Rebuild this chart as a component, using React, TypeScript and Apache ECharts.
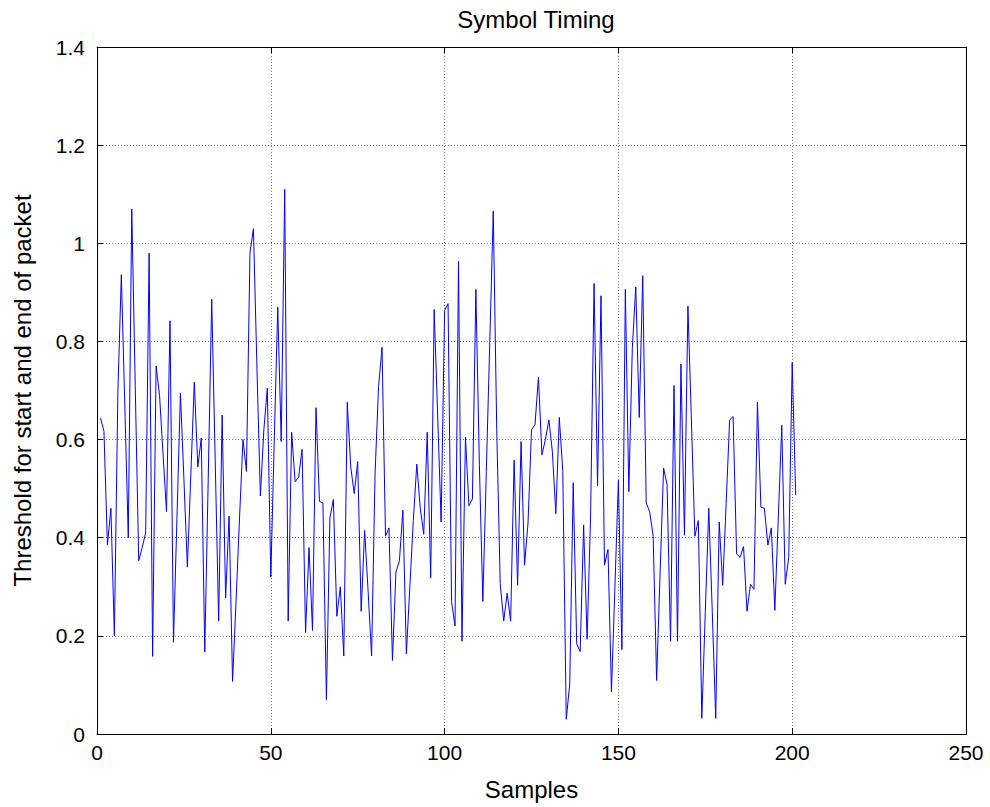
import React, { useEffect, useRef } from "react";
import * as echarts from "echarts";

// Symbol timing threshold values, sample index 1..201
const thresholdValues: number[] = [
  0.644, 0.617, 0.385, 0.46, 0.2, 0.695, 0.936, 0.67, 0.4, 1.07,
  0.71, 0.353, 0.38, 0.41, 0.98, 0.158, 0.75, 0.69, 0.57, 0.453,
  0.842, 0.187, 0.44, 0.695, 0.52, 0.34, 0.53, 0.717, 0.544, 0.603,
  0.167, 0.52, 0.886, 0.56, 0.23, 0.65, 0.277, 0.444, 0.107, 0.27,
  0.44, 0.6, 0.535, 0.98, 1.03, 0.75, 0.485, 0.62, 0.705, 0.32,
  0.6, 0.87, 0.596, 1.11, 0.23, 0.615, 0.514, 0.523, 0.58, 0.207,
  0.38, 0.211, 0.665, 0.474, 0.471, 0.07, 0.44, 0.478, 0.24, 0.3,
  0.159, 0.676, 0.544, 0.49, 0.555, 0.25, 0.415, 0.29, 0.159, 0.532,
  0.708, 0.788, 0.403, 0.42, 0.15, 0.33, 0.353, 0.456, 0.163, 0.3,
  0.435, 0.55, 0.46, 0.407, 0.615, 0.318, 0.865, 0.65, 0.432, 0.863,
  0.877, 0.27, 0.22, 0.963, 0.189, 0.605, 0.465, 0.479, 0.906, 0.55,
  0.27, 0.535, 0.8, 1.066, 0.62, 0.307, 0.23, 0.287, 0.23, 0.558,
  0.303, 0.596, 0.344, 0.43, 0.62, 0.63, 0.727, 0.569, 0.6, 0.64,
  0.576, 0.449, 0.645, 0.535, 0.03, 0.102, 0.512, 0.184, 0.168, 0.426,
  0.193, 0.444, 0.918, 0.506, 0.893, 0.344, 0.376, 0.086, 0.3, 0.517,
  0.172, 0.906, 0.494, 0.786, 0.911, 0.645, 0.934, 0.471, 0.453, 0.403,
  0.109, 0.33, 0.542, 0.508, 0.189, 0.71, 0.189, 0.754, 0.405, 0.872,
  0.64, 0.403, 0.435, 0.032, 0.25, 0.46, 0.25, 0.032, 0.432, 0.303,
  0.47, 0.64, 0.647, 0.367, 0.36, 0.382, 0.25, 0.305, 0.295, 0.676,
  0.462, 0.46, 0.385, 0.42, 0.252, 0.44, 0.629, 0.305, 0.36, 0.757,
  0.487,
];

const titleText = "Symbol Timing";
const xAxisName = "Samples";
const yAxisName = "Threshold for start and end of packet";
const xTicks = { min: 0, max: 250, interval: 50 };
const yTicks = { min: 0, max: 1.4, interval: 0.2 };

const FONT = "'Liberation Sans', Arial, Helvetica, sans-serif";

export default function App() {
  const ref = useRef<HTMLDivElement>(null);

  useEffect(() => {
    if (!ref.current) return;
    const chart = echarts.init(ref.current, undefined, { renderer: "svg" });
    // MATLAB-style 1-based sample index
    const data = thresholdValues.map((v, i) => [i + 1, v]);

    const axisLine = { show: true, onZero: false, lineStyle: { color: "#000", width: 1 } };
    const tick = { show: true, inside: true, length: 6, lineStyle: { color: "#000", width: 1 } };
    const split = { show: true, lineStyle: { color: "#7a7a7a", type: [1, 2] as any, width: 1 } };

    chart.setOption({
      animation: false,
      backgroundColor: "#fff",
      textStyle: { fontFamily: FONT },
      title: {
        text: titleText,
        left: 531,
        textAlign: "center",
        top: 2,
        textStyle: { fontFamily: FONT, fontWeight: "normal", fontSize: 24, color: "#000" },
      },
      grid: { left: 97, right: 24, top: 47, bottom: 73, containLabel: false },
      xAxis: [
        {
          type: "value",
          position: "bottom",
          min: xTicks.min,
          max: xTicks.max,
          interval: xTicks.interval,
          axisLine,
          axisTick: tick,
          axisLabel: { fontSize: 21, color: "#000", fontFamily: FONT, margin: 8 },
          splitLine: split,
          name: xAxisName,
          nameLocation: "middle",
          nameGap: 43,
          nameTextStyle: { fontSize: 24, color: "#000", fontFamily: FONT },
        },
        {
          type: "value",
          position: "top",
          min: xTicks.min,
          max: xTicks.max,
          interval: xTicks.interval,
          axisLine,
          axisTick: tick,
          axisLabel: { show: false },
          splitLine: { show: false },
        },
      ],
      yAxis: [
        {
          type: "value",
          position: "left",
          min: yTicks.min,
          max: yTicks.max,
          interval: yTicks.interval,
          axisLine,
          axisTick: tick,
          axisLabel: {
            fontSize: 21,
            color: "#000",
            fontFamily: FONT,
            margin: 12,
            formatter: (v: number) => String(Math.round(v * 10) / 10),
          },
          splitLine: split,
          name: yAxisName,
          nameLocation: "middle",
          nameGap: 63,
          nameRotate: 90,
          nameTextStyle: { fontSize: 24, color: "#000", fontFamily: FONT },
        },
        {
          type: "value",
          position: "right",
          min: yTicks.min,
          max: yTicks.max,
          interval: yTicks.interval,
          axisLine,
          axisTick: tick,
          axisLabel: { show: false },
          splitLine: { show: false },
        },
      ],
      series: [
        {
          type: "line",
          data,
          xAxisIndex: 0,
          yAxisIndex: 0,
          showSymbol: false,
          symbol: "none",
          lineStyle: { color: "#0000ff", width: 1 },
          itemStyle: { color: "#0000ff" },
          z: 5,
        },
      ],
    });

    return () => chart.dispose();
  }, []);

  return (
    <div
      ref={ref}
      style={{ position: "absolute", left: 0, top: 0, width: 990, height: 807, background: "#fff" }}
    />
  );
}
